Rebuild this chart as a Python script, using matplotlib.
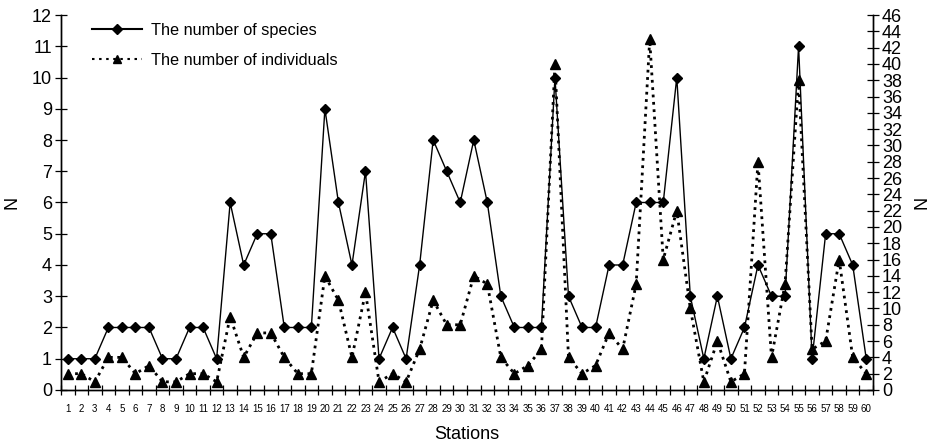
import numpy as np
import matplotlib.pyplot as plt

plt.rcParams['font.family'] = ['Liberation Sans', 'DejaVu Sans']

stations = list(range(1, 61))
species = [1, 1, 1, 2, 2, 2, 2, 1, 1, 2, 2, 1, 6, 4, 5, 5, 2, 2, 2, 9,
           6, 4, 7, 1, 2, 1, 4, 8, 7, 6, 8, 6, 3, 2, 2, 2, 10, 3, 2, 2,
           4, 4, 6, 6, 6, 10, 3, 1, 3, 1, 2, 4, 3, 3, 11, 1, 5, 5, 4, 1]
individuals = [2, 2, 1, 4, 4, 2, 3, 1, 1, 2, 2, 1, 9, 4, 7, 7, 4, 2, 2, 14,
               11, 4, 12, 1, 2, 1, 5, 11, 8, 8, 14, 13, 4, 2, 3, 5, 40, 4, 2, 3,
               7, 5, 13, 43, 16, 22, 10, 1, 6, 1, 2, 28, 4, 13, 38, 5, 6, 16, 4, 2]

fig = plt.figure(figsize=(9.34, 4.48), dpi=100)
ax = fig.add_axes([0.0653, 0.1295, 0.8694, 0.837])
ax2 = ax.twinx()

ax.plot(stations, species, '-', color='black', lw=1.0, marker='D',
        markersize=5.5)
ax2.plot(stations, individuals, ':', color='black', lw=2.0, marker='^',
         markersize=7)

# legend handles drawn thinner, like the original
h1, = ax.plot([], [], '-', color='black', lw=1.5, marker='D', markersize=5,
              label='The number of species')
h2, = ax.plot([], [], color='black', lw=1.5, ls=(0, (1.2, 2.2)), marker='^',
              markersize=6, label='The number of individuals')

ax.set_xlim(0.5, 60.5)
ax.set_ylim(0, 12)
ax2.set_ylim(0, 46)
ax.set_yticks(range(0, 13))
ax2.set_yticks(range(0, 47, 2))

# labels in the middle of each station, ticks on the boundaries
ax.set_xticks(stations)
ax.set_xticklabels([str(s) for s in stations], fontsize=7)
ax.tick_params(axis='x', which='major', length=0, pad=10)
ax.set_xticks(np.arange(0.5, 61, 1), minor=True)
ax.tick_params(axis='x', which='minor', direction='inout', length=7, width=0.9)
ax.tick_params(axis='y', direction='inout', length=9, width=0.9, labelsize=13, pad=2)
ax2.tick_params(axis='y', direction='inout', length=9, width=0.9, labelsize=13, pad=2)

for a in (ax, ax2):
    a.spines['top'].set_visible(False)
    for s in ('left', 'right', 'bottom'):
        a.spines[s].set_linewidth(1.0)

ax.set_ylabel('N', fontsize=13, labelpad=8)
ax2.set_ylabel('N', fontsize=13, labelpad=8, rotation=90)
ax.set_xlabel('Stations', fontsize=13, labelpad=9)

ax.legend(handles=[h1, h2], loc='upper left', bbox_to_anchor=(0.038, 0.98),
          frameon=False, fontsize=11.7, handlelength=3.1, handletextpad=0.55,
          labelspacing=0.95, borderpad=0, borderaxespad=0)

fig.savefig('out.png', dpi=100)
